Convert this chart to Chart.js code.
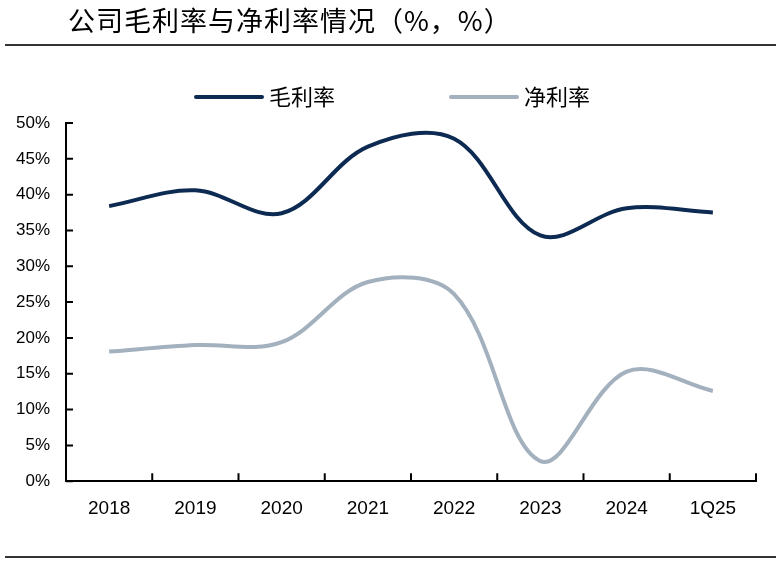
<!DOCTYPE html>
<html>
<head>
<meta charset="utf-8">
<script src="https://cdn.jsdelivr.net/npm/chart.js@4.4.1/dist/chart.umd.min.js"></script>
<style>
    body { margin: 0; background: #fff; }
    #wrap { position: relative; width: 781px; height: 569px; }
    #grafica { position: absolute; left: 0; top: 0; }
    #titulo { position: absolute; left: 68px; top: 0px; font: 27px "Noto Sans CJK SC"; letter-spacing: 1px; color: #000; white-space: nowrap; }
    .regla { position: absolute; left: 5px; width: 771px; height: 2px; background: #333; }
</style>
</head>
<body>
<div id="wrap">
    <canvas id="grafica" width="781" height="569"></canvas>
    <div id="titulo">公司毛利率与净利率情况（%，%）</div>
    <div class="regla" style="top:44px"></div>
    <div class="regla" style="top:556px"></div>
</div>
<script>
var categorias = ['2018', '2019', '2020', '2021', '2022', '2023', '2024', '1Q25'];
var margenBruto = [38.4, 40.6, 37.4, 46.7, 47.8, 34.3, 38.1, 37.5]; // 毛利率 (%)
var margenNeto = [18.1, 19.0, 19.4, 27.8, 26.1, 2.8, 15.3, 12.6];   // 净利率 (%)
var ticksY = [0, 5, 10, 15, 20, 25, 30, 35, 40, 45, 50];

// leyenda dibujada a mano (lineas largas como en el original)
var leyenda = {
    id: 'leyenda',
    afterDraw: function (chart) {
        var ctx = chart.ctx;
        var xs = [196, 451];
        chart.data.datasets.forEach(function (ds, i) {
            ctx.save();
            ctx.strokeStyle = ds.borderColor;
            ctx.lineWidth = 4;
            ctx.lineCap = 'round';
            ctx.beginPath();
            ctx.moveTo(xs[i], 97);
            ctx.lineTo(xs[i] + 66, 97);
            ctx.stroke();
            ctx.fillStyle = '#000';
            ctx.font = '22px "Noto Sans CJK SC"';
            ctx.textBaseline = 'middle';
            ctx.fillText(ds.label, xs[i] + 73, 97);
            ctx.restore();
        });
    }
};

// marcas de los ejes hacia dentro
var marcas = {
    id: 'marcas',
    afterDraw: function (chart) {
        var ctx = chart.ctx, sx = chart.scales.x, sy = chart.scales.y;
        ctx.save();
        ctx.strokeStyle = '#000';
        ctx.lineWidth = 2;
        ctx.beginPath();
        sy.ticks.forEach(function (t, i) {
            var py = sy.getPixelForTick(i);
            ctx.moveTo(sy.right, py);
            ctx.lineTo(sy.right + 7, py);
        });
        var n = categorias.length;
        for (var i = 1; i <= n; i++) {
            var px = sx.left + i * sx.width / n;
            ctx.moveTo(px, sx.top);
            ctx.lineTo(px, sx.top - 8);
        }
        ctx.stroke();
        ctx.restore();
    }
};

var gx = document.getElementById('grafica').getContext('2d');
var grafica = new Chart(gx, {
    type: 'line',
    data: {
        labels: categorias,
        datasets: [{
            label: '毛利率',
            data: margenBruto,
            borderColor: '#0D2B52',
            borderWidth: 4,
            pointRadius: 0,
            tension: 0.35
        }, {
            label: '净利率',
            data: margenNeto,
            borderColor: '#A3B0BE',
            borderWidth: 4,
            pointRadius: 0,
            tension: 0.35
        }]
    },
    options: {
        responsive: false,
        animation: false,
        layout: { padding: { top: 123, left: 0, right: 25, bottom: 33 } },
        plugins: { legend: { display: false }, tooltip: { enabled: false } },
        scales: {
            x: {
                offset: true,
                grid: { display: false, drawTicks: false },
                border: { color: '#000', width: 2 },
                ticks: { color: '#000', padding: 16, font: { family: 'Liberation Sans', size: 19 } }
            },
            y: {
                min: 0,
                max: 50,
                afterBuildTicks: function (scale) {
                    scale.ticks = ticksY.map(function (v) { return { value: v }; });
                },
                afterFit: function (scale) { scale.width = 66; },
                grid: { display: false, drawTicks: false },
                border: { color: '#000', width: 2 },
                ticks: {
                    color: '#000',
                    padding: 16,
                    font: { family: 'Liberation Sans', size: 17 },
                    callback: function (v) { return v + '%'; }
                }
            }
        }
    },
    plugins: [leyenda, marcas]
});
</script>
</body>
</html>
